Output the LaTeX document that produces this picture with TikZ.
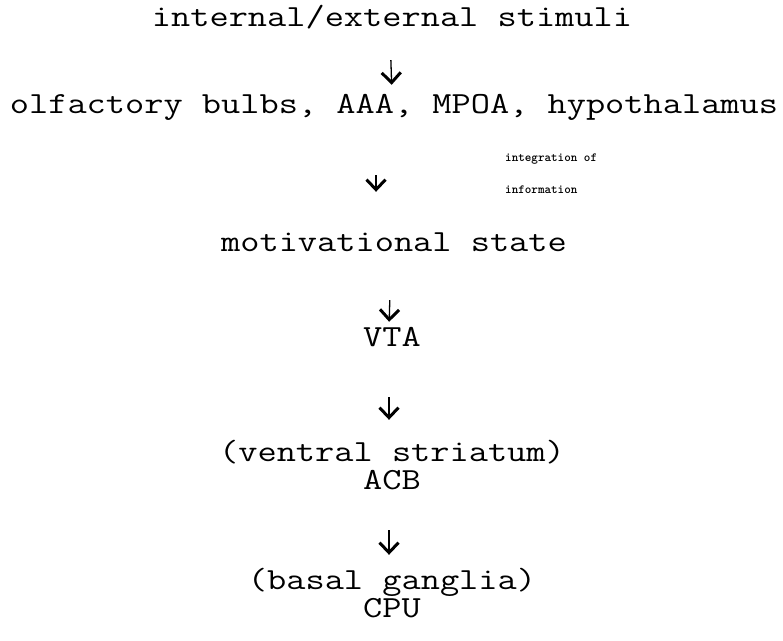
\documentclass[tikz,border=0pt]{standalone}
\usepackage{tikz}
\usetikzlibrary{arrows.meta}
\newcommand{\wtext}[1]{\scalebox{1.13}[0.93]{#1}}

\begin{document}
\begin{tikzpicture}[
  x=1pt, y=1pt,
  lbl/.style={inner sep=0pt, anchor=base, text height=18pt, text depth=6pt, font=\ttfamily\fontsize{33}{38}\selectfont},
  note/.style={inner sep=0pt, anchor=base west, font=\ttfamily\bfseries\fontsize{12.5}{15}\selectfont},
  arr/.style={-{Straight Barb[length=10pt, width=19pt, line width=3pt]}, line width=1.3pt}
]
\useasboundingbox (0,0) rectangle (783,640);

\node[lbl] (stim) at (392,613) {\wtext{internal/external stimuli}};
\node[lbl] (olf)  at (394,526) {\wtext{olfactory bulbs, AAA, MPOA, hypothalamus}};
\node[note] (integ) at (505,478) {integration of};
\node[note] (info)  at (505,446) {information};
\node[lbl] (mot)  at (394,388) {\wtext{motivational state}};
\node[lbl] (vta)  at (392,294) {\wtext{VTA}};
\node[lbl] (vs)   at (392,179) {\wtext{(ventral striatum)}};
\node[lbl] (acb)  at (392,151) {\wtext{ACB}};
\node[lbl] (bg)   at (392,51)  {\wtext{(basal ganglia)}};
\node[lbl] (cpu)  at (392,23)  {\wtext{CPU}};

\draw[arr, shorten <=27pt, shorten >=11pt] ([xshift=-2pt]stim.south) -- ([xshift=-2pt]olf.north);
\draw[arr, shorten <=55pt, shorten >=42pt] ([xshift=-18pt]olf.south) -- ([xshift=-18pt]mot.north);
\draw[arr, shorten <=42pt, shorten >=6pt] ([xshift=-3pt]mot.south) -- ([xshift=-3pt]vta.north);
\draw[arr, shorten <=45pt, shorten >=23pt] ([xshift=-3pt]vta.south) -- ([xshift=-3pt]vs.north);
\draw[arr, shorten <=35pt, shorten >=16pt] ([xshift=-3pt]acb.south) -- ([xshift=-3pt]bg.north);
\end{tikzpicture}
\end{document}
